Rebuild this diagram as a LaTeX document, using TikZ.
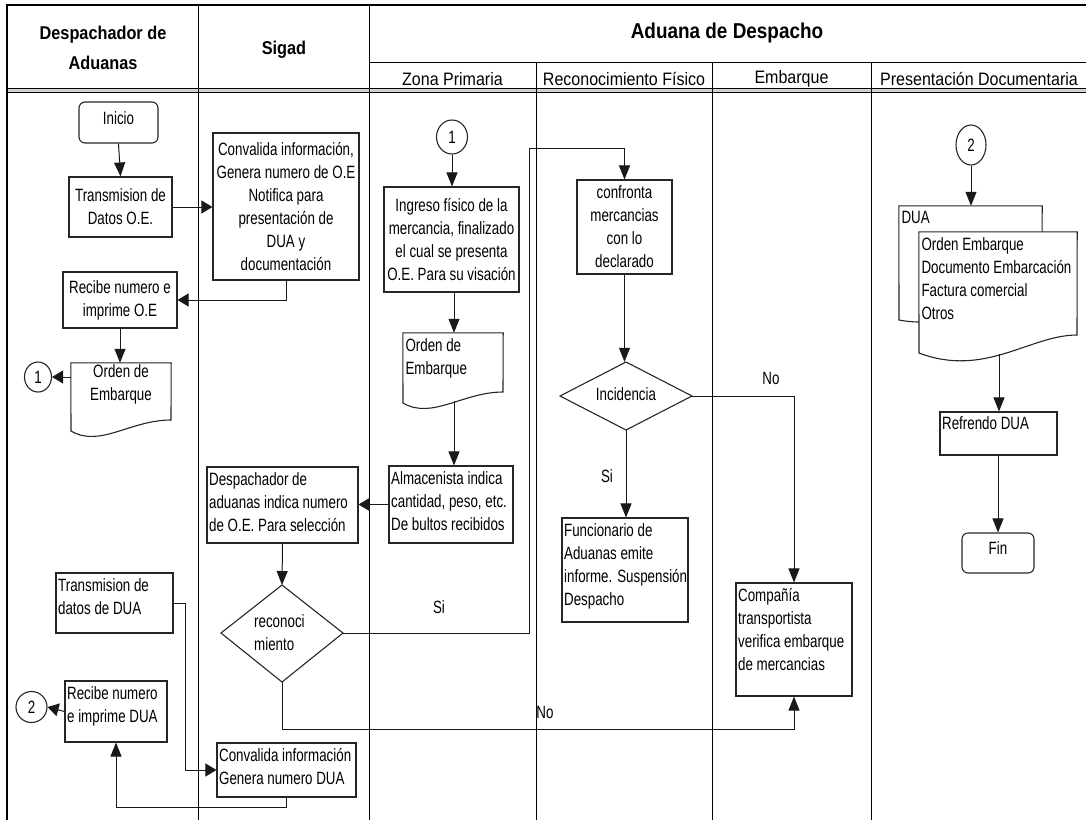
\documentclass[tikz,border=0pt]{standalone}
\usepackage{fontspec}
\setmainfont{Liberation Sans}[FakeStretch=0.75]
\newfontfamily\hdrfont{Liberation Sans}[FakeStretch=0.88]
\newfontfamily\subfont{Liberation Sans}[FakeStretch=0.89]
\usetikzlibrary{arrows.meta,shapes.geometric}
\newcommand\bodyf{\fontsize{17.8}{23}\selectfont}
\begin{document}
\begin{tikzpicture}[x=1pt,y=-1pt,
  every node/.style={font=\bodyf},
  shp/.style={draw=black!85, line width=1.1pt, fill=white, inner sep=0pt},
  box/.style={shp, rectangle, align=center},
  term/.style={shp, rectangle, rounded corners=6pt, align=center},
  conn/.style={shp, ellipse},
  ghost/.style={rectangle, draw=none, inner sep=0pt},
  tl/.style={anchor=north west, inner sep=0pt, align=left},
  lbl/.style={inner sep=0pt},
  ln/.style={draw=black!90, line width=1pt},
  va/.style={ln, -{Triangle[length=14pt,width=11pt]}},
  ha/.style={ln, -{Triangle[length=11pt,width=13pt]}},
  lane/.style={draw=black, line width=1pt}
]
\useasboundingbox (0,0) rectangle (1086,820);
% ---------- lanes and header ----------
\fill[gray!35] (7,88.5) rectangle (1086,92.5);
\draw[lane] (7,88.5) -- (1086,88.5);
\draw[lane] (7,92.5) -- (1086,92.5);
\draw[lane] (198,5) -- (198,820);
\draw[lane] (369,5) -- (369,820);
\draw[lane] (369,62) -- (1086,62);
\draw[lane] (536,62) -- (536,820);
\draw[lane] (712,62) -- (712,820);
\draw[lane] (871,62) -- (871,820);
\draw[line width=2.6pt] (7,820) -- (7,5) -- (1090,5);

\node[lbl, align=center, font=\hdrfont\bfseries\fontsize{18.5}{30}\selectfont] (h1) at (103,48) {Despachador de\\Aduanas};
\node[lbl, font=\hdrfont\bfseries\fontsize{18.5}{22}\selectfont] (h2) at (284,50) {Sigad};
\node[lbl, font=\hdrfont\bfseries\fontsize{21.5}{25}\selectfont] (h3) at (727,33) {Aduana de Despacho};
\node[lbl, font=\subfont\fontsize{18}{20}\selectfont] (s1) at (452.5,79) {Zona Primaria};
\node[lbl, font=\subfont\fontsize{18}{20}\selectfont] (s2) at (624,79) {Reconocimiento Físico};
\node[lbl, font=\subfont\fontsize{18}{20}\selectfont] (s3) at (791.5,79) {Embarque};
\node[lbl, font=\subfont\fontsize{18}{20}\selectfont] (s4) at (979,79) {Presentación Documentaria};

% ---------- Despachador de Aduanas ----------
\node[term, minimum width=79pt, minimum height=41pt] (inicio) at (118.5,122.5) {};
\node[lbl] (iniciot) at (118.5,118) {Inicio};
\node[box, minimum width=103pt, minimum height=60pt] (txoe) at (120.5,207) {Transmision de\\Datos O.E.};
\node[box, minimum width=114pt, minimum height=56pt] (recoe) at (120,300) {Recibe numero e\\imprime O.E};
\node[ghost, minimum width=100pt, minimum height=28pt] (doc1) at (121,377) {};
\draw[shp] (doc1.north west) -- (doc1.north east) -- (171,420) .. controls (130,420) and (100,448) .. (71,431) -- cycle;
\node[lbl, align=center] (doc1t) at (121,384) {Orden de\\Embarque};
\node[conn, minimum width=27pt, minimum height=30pt] (c1a) at (38,377) {1};

\node[box, minimum width=117pt, minimum height=60pt] (txdua) at (114.5,603) {};
\node[tl] (txduat) at ([shift={(2.5,6)}]txdua.north west) {Transmision de\\datos de DUA};
\node[box, minimum width=102pt, minimum height=61pt] (recdua) at (116,711.5) {};
\node[tl] (recduat) at ([shift={(2.5,6)}]recdua.north west) {Recibe numero\\e imprime DUA};
\node[conn, minimum width=31pt, minimum height=31pt] (c2a) at (31.5,707) {2};

% ---------- Sigad ----------
\node[box, minimum width=146pt, minimum height=147pt] (conv) at (286,206.5) {Convalida información,\\Genera numero de O.E\\Notifica para\\presentación de\\DUA y\\documentación};
\node[box, minimum width=151pt, minimum height=76pt] (desp) at (282.5,505) {};
\node[tl] (despt) at ([shift={(2.5,6)}]desp.north west) {Despachador de\\aduanas indica numero\\de O.E. Para selección};
\draw[shp] (282,585) coordinate (recoN) -- (343,633) coordinate (recoE) -- (282,682) coordinate (recoS) -- (221,633) coordinate (recoW) -- cycle;
\node[ghost, minimum width=122pt, minimum height=97pt] (reco) at (282,633) {};
\node[lbl, anchor=west, align=left] (recot) at (254,633) {reconoci\\miento};
\node[box, minimum width=139pt, minimum height=54pt] (convdua) at (286.5,770) {};
\node[tl] (convduat) at ([shift={(2.5,6)}]convdua.north west) {Convalida información\\Genera numero DUA};

% ---------- Zona Primaria ----------
\node[conn, minimum width=31pt, minimum height=34pt] (c1b) at (452,137) {1};
\node[box, minimum width=135pt, minimum height=105pt] (ingreso) at (451.5,239.5) {Ingreso físico de la\\mercancia, finalizado\\el cual se presenta\\O.E. Para su visación};
\node[ghost, minimum width=100pt, minimum height=34pt] (doc2) at (453,350) {};
\draw[shp] (doc2.north west) -- (doc2.north east) -- (503,392) .. controls (463,392) and (432,420) .. (403,403) -- cycle;
\node[tl] (doc2t) at ([shift={(2.5,6)}]doc2.north west) {Orden de\\Embarque};
\coordinate (doc2b) at (454,400.5);
\node[box, minimum width=124pt, minimum height=77pt] (alm) at (451,504.5) {};
\node[tl] (almt) at ([shift={(2.5,6)}]alm.north west) {Almacenista indica\\cantidad, peso, etc.\\De bultos recibidos};

% ---------- Reconocimiento Fisico ----------
\node[box, minimum width=95pt, minimum height=94pt] (confr) at (624.5,227) {confronta\\mercancias\\con lo\\declarado};
\draw[shp] (626,362) -- (692,396) -- (626,430) -- (560,396) -- cycle;
\node[ghost, minimum width=132pt, minimum height=68pt] (incid) at (626,396) {};
\node[lbl] (incidt) at (626,394) {Incidencia};
\node[box, minimum width=126pt, minimum height=104pt] (func) at (625,570) {};
\node[tl] (funct) at ([shift={(2.5,6)}]func.north west) {Funcionario de\\Aduanas emite\\informe. Suspensión\\Despacho};

% ---------- Embarque ----------
\node[box, minimum width=116pt, minimum height=113pt] (comp) at (794,639.5) {};
\node[tl] (compt) at ([shift={(2.5,6)}]comp.north west) {Compañía\\transportista\\verifica embarque\\de mercancias};

% ---------- Presentacion Documentaria ----------
\node[conn, minimum width=30pt, minimum height=40pt] (c2b) at (971,145) {2};
\node[ghost, minimum width=143pt, minimum height=26pt] (docb) at (970.5,219) {};
\draw[shp] (docb.north west) -- (docb.north east) -- (1042,300) .. controls (1000,300) and (950,330) .. (899,320) -- cycle;
\node[tl] (docbt) at ([shift={(2.5,5)}]docb.north west) {DUA};
\node[ghost, minimum width=158pt, minimum height=96pt] (docf) at (998,280) {};
\draw[shp] (docf.north west) -- (docf.north east) -- (1077,335) .. controls (1030,335) and (985,378) .. (919,353) -- cycle;
\node[tl] (docft) at ([shift={(2.5,6)}]docf.north west) {Orden Embarque\\Documento Embarcación\\Factura comercial\\Otros};
\coordinate (docfb) at (999,354);
\node[box, minimum width=117pt, minimum height=43pt] (refr) at (998.5,433.5) {};
\node[tl] (refrt) at ([shift={(2.5,5)}]refr.north west) {Refrendo DUA};
\node[term, minimum width=72pt, minimum height=40pt] (fin) at (998,553) {};
\node[lbl] (fint) at (998,548) {Fin};

% ---------- connectors ----------
\draw[va] (inicio.south) -- (txoe.north);
\draw[ha] (txoe.east) -- (conv.west |- txoe.east);
\draw[ha] (conv.south) |- (recoe.east);
\draw[va] (recoe.south) -- (recoe.south |- doc1.north);
\draw[ha] (doc1.west) -- (c1a.east);
\draw[va] (c1b.south) -- (c1b.south |- ingreso.north);
\draw[va] (ingreso.south -| doc2b) -- (doc2b |- doc2.north);
\draw[va] (doc2b) -- (doc2b |- alm.north);
\draw[ha] (alm.west) -- (desp.east |- alm.west);
\draw[va] (desp.south) -- (recoN);
\coordinate (b1) at (529,148);
\draw[va] (recoE) -| (b1) -| (confr.north);
\draw[va] (confr.south) -- (confr.south |- incid.north);
\draw[va] (incid.south) -- (incid.south |- func.north);
\coordinate (b5) at (794,396);
\draw[va] (incid.east) -- (b5) -- (comp.north);
\coordinate (b2) at (282,729);
\draw[va] (recoS) -- (b2) -| (comp.south);
\coordinate (b3) at (185,603);
\draw[ha] (txdua.east) -- (b3) |- (convdua.west);
\coordinate (b4) at (286.5,807);
\draw[va] (convdua.south) -- (b4) -| (recdua.south);
\draw[ha] (recdua.west) -- (c2a.east);
\draw[va] (c2b.south) -- (c2b.south |- docb.north);
\draw[va] (docfb) -- (docfb |- refr.north);
\draw[va] (refr.south -| fin.north) -- (fin.north);

% ---------- labels ----------
\node[lbl] (lno1) at (771,378) {No};
\node[lbl] (lsi1) at (607,476) {Si};
\node[lbl] (lsi2) at (439,607) {Si};
\node[lbl] (lno2) at (545,712) {No};
\end{tikzpicture}
\end{document}
